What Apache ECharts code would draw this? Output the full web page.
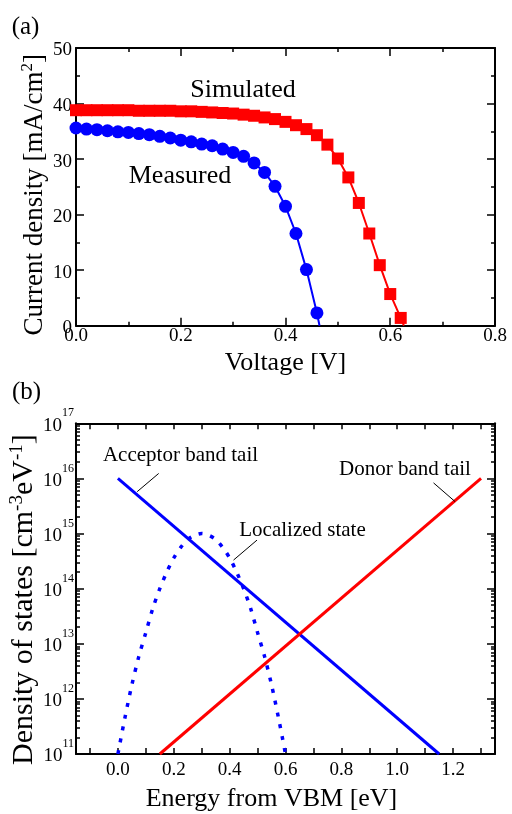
<!DOCTYPE html>
<html><head><meta charset="utf-8">
<script src="https://cdn.jsdelivr.net/npm/echarts@6/dist/echarts.min.js"></script>
<style>html,body{margin:0;padding:0;background:#fff}#c{width:512px;height:814px}</style>
</head><body><div id="c"></div>
<script>
const FONT = 'Liberation Serif';

// (a) J-V curves
const simV = [0.00,0.02,0.04,0.06,0.08,0.10,0.12,0.14,0.16,0.18,0.20,0.22,0.24,0.26,0.28,0.30,0.32,0.34,0.36,0.38,0.40,0.42,0.44,0.46,0.48,0.50,0.52,0.54,0.56,0.58,0.60,0.62];
const simJ = [38.8,38.8,38.8,38.8,38.8,38.8,38.7,38.7,38.7,38.7,38.6,38.6,38.5,38.4,38.3,38.2,38.0,37.8,37.5,37.2,36.7,36.1,35.4,34.3,32.6,30.1,26.7,22.1,16.6,10.9,5.7,1.4];
const simVoc = 0.626;
const measV = [0.00,0.02,0.04,0.06,0.08,0.10,0.12,0.14,0.16,0.18,0.20,0.22,0.24,0.26,0.28,0.30,0.32,0.34,0.36,0.38,0.40,0.42,0.44,0.46];
const measJ = [35.6,35.4,35.3,35.1,34.9,34.8,34.6,34.4,34.1,33.8,33.4,33.1,32.7,32.4,31.8,31.2,30.5,29.3,27.6,25.1,21.5,16.6,10.1,2.3];
const measVoc = 0.465;

// (b) density of states
const accE = [0.0, 1.15];
const accN = [1e16, 1e11];
const donE = [0.15, 1.30];
const donN = [1e11, 1e16];
const locE = [0,0.025,0.05,0.075,0.1,0.125,0.15,0.175,0.2,0.225,0.25,0.275,0.3,0.325,0.35,0.375,0.4,0.425,0.45,0.475,0.5,0.525,0.55,0.575,0.6];
const locN = [1.0e11,4.5e11,1.8e12,5.9e12,1.6e13,4.4e13,1.0e14,2.0e14,3.6e14,5.6e14,7.8e14,9.3e14,1.0e15,9.3e14,7.8e14,5.6e14,3.6e14,2.0e14,1.0e14,4.4e13,1.6e13,5.9e12,1.8e12,4.5e11,1.0e11];

// tick labels
const energyTicks = [-0.1,0,0.1,0.2,0.3,0.4,0.5,0.6,0.7,0.8,0.9,1.0,1.1,1.2,1.3];
const energyLabels = [0,0.2,0.4,0.6,0.8,1.0,1.2];
const minorLog = [];
for (let n = 11; n < 17; n++) for (let k = 2; k <= 9; k++) minorLog.push(n + Math.log10(k));

const zip = (a, b) => a.map((v, i) => [v, b[i]]);

const axisLine = {show: true, onZero: false, lineStyle: {color: '#000', width: 2}};
const noLine = {show: false, onZero: false};
const tickStyle = {color: '#000', width: 1.5};
const lbl = {fontFamily: FONT, fontSize: 19, color: '#000'};

const chart = echarts.init(document.getElementById('c'), null, {renderer: 'canvas'});
chart.setOption({
  animation: false,
  backgroundColor: '#fff',
  grid: [
    {left: 76, top: 48, width: 419, height: 277.7, containLabel: false, outerBoundsMode: 'none'},
    {left: 76, top: 423.3, width: 419, height: 330.7, containLabel: false, outerBoundsMode: 'none'}
  ],
  xAxis: [
    {gridIndex: 0, type: 'value', min: 0, max: 0.8, interval: 0.2, position: 'bottom',
     axisLine, splitLine: {show: false},
     axisTick: {inside: true, length: 8, lineStyle: tickStyle},
     minorTick: {show: true, splitNumber: 2, length: 4, lineStyle: tickStyle},
     axisLabel: Object.assign({margin: 1, formatter: v => v.toFixed(1)}, lbl),
     name: 'Voltage [V]', nameLocation: 'middle', nameGap: 24,
     nameTextStyle: {fontFamily: FONT, fontSize: 26, color: '#000'}},
    {gridIndex: 0, type: 'value', min: 0, max: 0.8, interval: 0.2, position: 'top',
     axisLine, splitLine: {show: false},
     axisTick: {inside: true, length: 8, lineStyle: tickStyle},
     minorTick: {show: true, splitNumber: 2, length: 4, lineStyle: tickStyle},
     axisLabel: {show: false}},
    {gridIndex: 1, type: 'value', min: -0.15, max: 1.35, position: 'bottom',
     axisLine, splitLine: {show: false},
     axisTick: {inside: true, length: 6, lineStyle: tickStyle, customValues: energyTicks},
     axisLabel: Object.assign({margin: 7, customValues: energyLabels, formatter: v => v.toFixed(1)}, lbl),
     name: 'Energy from VBM [eV]', nameLocation: 'middle', nameGap: 32,
     nameTextStyle: {fontFamily: FONT, fontSize: 26, color: '#000', padding: [0, 28, 0, 0]}},
    {gridIndex: 1, type: 'value', min: -0.15, max: 1.35, position: 'top',
     axisLine, splitLine: {show: false},
     axisTick: {inside: true, length: 6, lineStyle: tickStyle, customValues: energyTicks},
     axisLabel: {show: false}}
  ],
  yAxis: [
    {gridIndex: 0, type: 'value', min: 0, max: 50, interval: 10, position: 'left',
     axisLine, splitLine: {show: false},
     axisTick: {inside: true, length: 8, lineStyle: tickStyle},
     minorTick: {show: true, splitNumber: 2, length: 4, lineStyle: tickStyle},
     axisLabel: {margin: 4, formatter: v => '{a|' + v + '}',
       rich: {a: {fontFamily: FONT, fontSize: 19, color: '#000', padding: [5, 0, 0, 0]}}},
     name: '{t|Current density [mA/cm}{s|2}{t|]}', nameLocation: 'middle', nameGap: 26, nameMoveOverlap: false,
     nameTextStyle: {fontFamily: FONT, fontSize: 27, color: '#000', padding: [0, 16, 0, 0],
       rich: {t: {fontFamily: FONT, fontSize: 27, color: '#000'},
              s: {fontFamily: FONT, fontSize: 17, color: '#000', padding: [0, 0, 14, 0]}}}},
    {gridIndex: 0, type: 'value', min: 0, max: 50, interval: 10, position: 'right',
     axisLine, splitLine: {show: false},
     axisTick: {inside: true, length: 8, lineStyle: tickStyle},
     minorTick: {show: true, splitNumber: 2, length: 4, lineStyle: tickStyle},
     axisLabel: {show: false}},
    {gridIndex: 1, type: 'log', logBase: 10, min: 1e11, max: 1e17, splitNumber: 6, position: 'left',
     axisLine, splitLine: {show: false},
     axisTick: {inside: true, length: 8, lineStyle: tickStyle},
     axisLabel: {margin: 2, formatter: v => '{b|10}{s|' + Math.round(Math.log10(v)) + '}',
       rich: {b: {fontFamily: FONT, fontSize: 19, color: '#000', padding: [5, 0, 0, 0]},
              s: {fontFamily: FONT, fontSize: 12, color: '#000', padding: [0, 0, 20, 0]}}},
     name: '{t|Density of states [cm}{s|-3}{t|eV}{s|-1}{t|]}', nameLocation: 'middle', nameGap: 35, nameMoveOverlap: false,
     nameTextStyle: {fontFamily: FONT, fontSize: 30, color: '#000', padding: [0, 22, 0, 0],
       rich: {t: {fontFamily: FONT, fontSize: 30, color: '#000'},
              s: {fontFamily: FONT, fontSize: 19, color: '#000', padding: [0, 0, 14, 0]}}}},
    {gridIndex: 1, type: 'log', logBase: 10, min: 1e11, max: 1e17, splitNumber: 6, position: 'right',
     axisLine, splitLine: {show: false},
     axisTick: {inside: true, length: 8, lineStyle: tickStyle},
     axisLabel: {show: false}},
    {gridIndex: 1, type: 'value', min: 11, max: 17, position: 'left',
     axisLine: noLine, splitLine: {show: false},
     axisTick: {show: true, inside: true, length: 4, lineStyle: tickStyle, customValues: minorLog},
     axisLabel: {show: false}},
    {gridIndex: 1, type: 'value', min: 11, max: 17, position: 'right',
     axisLine: noLine, splitLine: {show: false},
     axisTick: {show: true, inside: true, length: 4, lineStyle: tickStyle, customValues: minorLog},
     axisLabel: {show: false}}
  ],
  series: [
    {name: 'Simulated', type: 'line', xAxisIndex: 0, yAxisIndex: 0,
     data: zip(simV, simJ).concat([{value: [simVoc, 0], symbol: 'none'}]),
     symbol: 'rect', symbolSize: 12, itemStyle: {color: '#ff0000'},
     lineStyle: {color: '#ff0000', width: 2}},
    {name: 'Measured', type: 'line', xAxisIndex: 0, yAxisIndex: 0,
     data: zip(measV, measJ).concat([{value: [measVoc, 0], symbol: 'none'}]),
     symbol: 'circle', symbolSize: 13, itemStyle: {color: '#0000ff'},
     lineStyle: {color: '#0000ff', width: 2}},
    {name: 'Localized state', type: 'line', xAxisIndex: 2, yAxisIndex: 2,
     data: zip(locE, locN), smooth: 0.3, showSymbol: false, symbol: 'none',
     lineStyle: {color: '#0000ff', width: 3.5, type: [4, 8]},
     markLine: {silent: true, symbol: 'none', label: {show: false},
       lineStyle: {color: '#000', width: 1, type: 'solid'},
       data: [[{coord: [0.498, 7.6e14]}, {coord: [0.414, 3.3e14]}]]}},
    {name: 'Acceptor band tail', type: 'line', xAxisIndex: 2, yAxisIndex: 2,
     data: zip(accE, accN), showSymbol: false, symbol: 'none',
     lineStyle: {color: '#0000ff', width: 3},
     markLine: {silent: true, symbol: 'none', label: {show: false},
       lineStyle: {color: '#000', width: 1, type: 'solid'},
       data: [[{coord: [0.146, 1.23e16]}, {coord: [0.069, 5.75e15]}]]}},
    {name: 'Donor band tail', type: 'line', xAxisIndex: 2, yAxisIndex: 2,
     data: zip(donE, donN), showSymbol: false, symbol: 'none',
     lineStyle: {color: '#ff0000', width: 3},
     markLine: {silent: true, symbol: 'none', label: {show: false},
       lineStyle: {color: '#000', width: 1, type: 'solid'},
       data: [[{coord: [1.13, 8.3e15]}, {coord: [1.207, 3.8e15]}]]}}
  ],
  graphic: [
    {type: 'text', x: 25.5, y: 27, style: {text: '(a)', font: '25px "Liberation Serif"', fill: '#000', align: 'center', verticalAlign: 'middle', textAlign: 'center', textVerticalAlign: 'middle'}},
    {type: 'text', x: 26.5, y: 392, style: {text: '(b)', font: '25px "Liberation Serif"', fill: '#000', align: 'center', verticalAlign: 'middle', textAlign: 'center', textVerticalAlign: 'middle'}},
    {type: 'text', x: 243, y: 90, style: {text: 'Simulated', font: '26px "Liberation Serif"', fill: '#000', align: 'center', verticalAlign: 'middle', textAlign: 'center', textVerticalAlign: 'middle'}},
    {type: 'text', x: 180, y: 176, style: {text: 'Measured', font: '26px "Liberation Serif"', fill: '#000', align: 'center', verticalAlign: 'middle', textAlign: 'center', textVerticalAlign: 'middle'}},
    {type: 'text', x: 180.5, y: 455, style: {text: 'Acceptor band tail', font: '21px "Liberation Serif"', fill: '#000', align: 'center', verticalAlign: 'middle', textAlign: 'center', textVerticalAlign: 'middle'}},
    {type: 'text', x: 302.5, y: 530, style: {text: 'Localized state', font: '21px "Liberation Serif"', fill: '#000', align: 'center', verticalAlign: 'middle', textAlign: 'center', textVerticalAlign: 'middle'}},
    {type: 'text', x: 405, y: 469, style: {text: 'Donor band tail', font: '21px "Liberation Serif"', fill: '#000', align: 'center', verticalAlign: 'middle', textAlign: 'center', textVerticalAlign: 'middle'}}
  ]
});
</script></body></html>
